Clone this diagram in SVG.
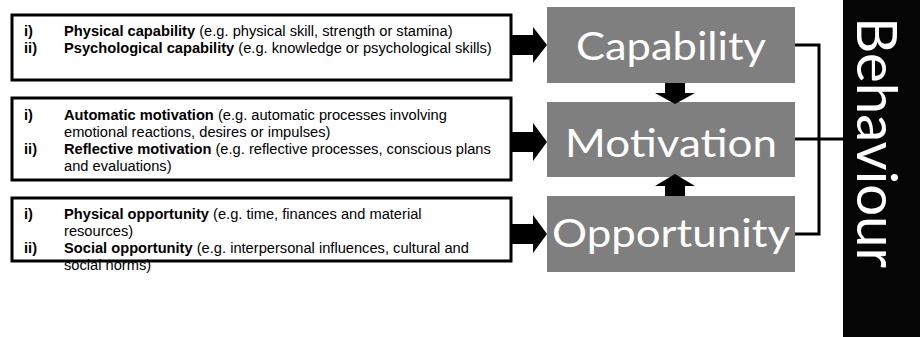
<svg xmlns="http://www.w3.org/2000/svg" width="920" height="337" viewBox="0 0 920 337">
<style>
.box{fill:#fff;stroke:#000;stroke-width:3}
.t{font-family:"Liberation Sans",Arial,sans-serif;font-size:14.67px;fill:#000}
.b{font-weight:bold}
.g{fill:#7f7f7f}
.gt{font-family:Lato,"Open Sans",sans-serif;font-size:39px;fill:#fff;text-anchor:middle}
.arr{fill:#000}
.con{fill:none;stroke:#000;stroke-width:3}
</style>
<rect width="920" height="337" fill="#fff"/>
<g id="capability-sources">
<rect class="box" x="12" y="15" width="499" height="65"/>
<text class="t b" x="24" y="36">i)</text>
<text class="t" x="64" y="36"><tspan class="b">Physical capability</tspan> (e.g. physical skill, strength or stamina)</text>
<text class="t b" x="24" y="53">ii)</text>
<text class="t" x="64" y="53"><tspan class="b">Psychological capability</tspan> (e.g. knowledge or psychological skills)</text>
</g>
<g id="motivation-sources">
<rect class="box" x="12" y="98" width="499" height="82"/>
<text class="t b" x="24" y="120">i)</text>
<text class="t" x="64" y="120"><tspan class="b">Automatic motivation</tspan> (e.g. automatic processes involving</text>
<text class="t" x="64" y="137">emotional reactions, desires or impulses)</text>
<text class="t b" x="24" y="154">ii)</text>
<text class="t" x="64" y="154"><tspan class="b">Reflective motivation</tspan> (e.g. reflective processes, conscious plans</text>
<text class="t" x="64" y="171">and evaluations)</text>
</g>
<g id="opportunity-sources">
<rect class="box" x="12" y="198" width="499" height="63"/>
<text class="t b" x="24" y="219">i)</text>
<text class="t" x="64" y="219"><tspan class="b">Physical opportunity</tspan> (e.g. time, finances and material</text>
<text class="t" x="64" y="236">resources)</text>
<text class="t b" x="24" y="253">ii)</text>
<text class="t" x="64" y="253"><tspan class="b">Social opportunity</tspan> (e.g. interpersonal influences, cultural and</text>
<text class="t" x="64" y="270">social norms)</text>
</g>
<g id="capability">
<rect class="g" x="547" y="7" width="248" height="76"/>
<text class="gt" x="671" y="60" textLength="190" lengthAdjust="spacingAndGlyphs">Capability</text>
</g>
<g id="motivation">
<rect class="g" x="547" y="102" width="248" height="75"/>
<text class="gt" x="671" y="157" textLength="212" lengthAdjust="spacingAndGlyphs">Motivation</text>
</g>
<g id="opportunity">
<rect class="g" x="547" y="196" width="248" height="76"/>
<text class="gt" x="671" y="247" textLength="238" lengthAdjust="spacingAndGlyphs">Opportunity</text>
</g>
<g id="behaviour">
<rect x="843" y="0" width="77" height="337" fill="#050505"/>
<text transform="translate(857,17) rotate(90)" x="0" y="0" font-family="Lato,'Open Sans',sans-serif" font-size="57" fill="#fff" textLength="251" lengthAdjust="spacingAndGlyphs">Behaviour</text>
</g>
<g id="connectors">
<polygon class="arr" points="511,35 533,35 533,27 547,45 533,63 533,55 511,55"/>
<polygon class="arr" points="511,132 533,132 533,123 547,142 533,161 533,152 511,152"/>
<polygon class="arr" points="511,224 533,224 533,215 547,234 533,253 533,244 511,244"/>
<polygon class="arr" points="665,83 685,83 685,93 695,93 675,104 655,93 665,93"/>
<polygon class="arr" points="665,196 685,196 685,186 695,186 675,174 655,186 665,186"/>
<polyline class="con" points="795,45 819,45 819,234 795,234"/>
<line class="con" x1="795" y1="139" x2="843" y2="139"/>
</g>
</svg>
